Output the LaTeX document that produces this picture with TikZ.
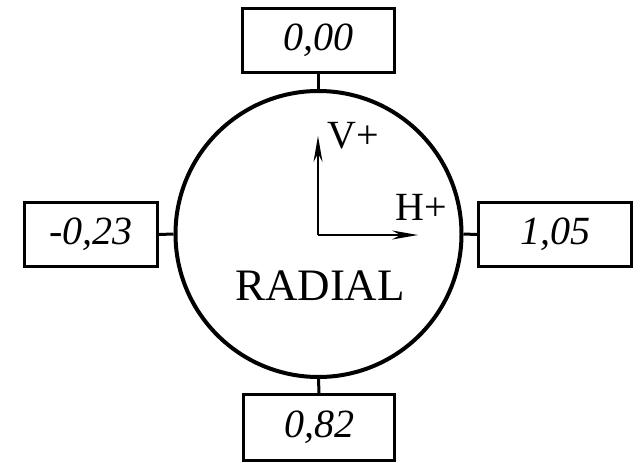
\documentclass[tikz,border=0pt]{standalone}
\usepackage{fontspec}
\setmainfont{Liberation Serif}
\usetikzlibrary{arrows.meta}
\tikzset{
  valbox/.style={draw, line width=3pt, inner sep=0pt, minimum height=64pt,
    font=\fontsize{40}{48}\selectfont\itshape},
  link/.style={line width=3pt},
  axis/.style={line width=1.5pt, -{Stealth[length=26pt,width=9pt]}},
  axlabel/.style={font=\fontsize{40}{48}\selectfont, inner sep=0pt, anchor=base west}
}
\begin{document}
\begin{tikzpicture}[x=1pt,y=-1pt]
\useasboundingbox (0,0) rectangle (643,463);
\node[draw, circle, line width=4pt, minimum size=286pt, inner sep=0pt] (circ) at (318.5,234) {};
\node[valbox, minimum width=152pt] (top) at (318.5,40.5) {0,00};
\node[valbox, minimum width=133pt] (left) at (91,234.5) {-0,23};
\node[valbox, minimum width=153pt] (right) at (555,234.5) {1,05};
\node[valbox, minimum width=151pt, minimum height=66pt] (bottom) at (319,427.5) {0,82};
\draw[link] (circ.north) -- (top.south);
\draw[link] (circ.west) -- (left.east);
\draw[link] (circ.east) -- (right.west);
\draw[link] (circ.south) -- (bottom.north);
\coordinate (o) at (318,235);
\coordinate (vend) at (318,136);
\coordinate (hend) at (418,235);
\draw[axis] (o) -- (vend);
\draw[axis] (o) -- (hend);
\node[axlabel] (vlab) at (327,148) {V+};
\node[axlabel] (hlab) at (395,220) {H+};
\node[font=\fontsize{45}{54}\selectfont, inner sep=0pt, anchor=base] (rad) at (320,300) {RADIAL};
\end{tikzpicture}
\end{document}
